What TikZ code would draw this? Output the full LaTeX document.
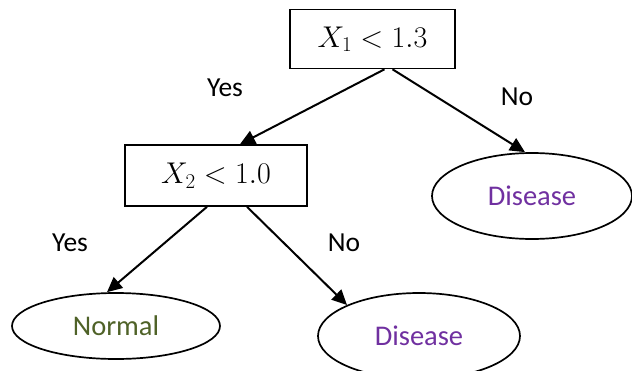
\RequirePackage{fix-cm}
\documentclass[tikz,border=0pt]{standalone}
\usepackage{fontspec}
\setmainfont{Carlito}
\usepackage{xcolor}
\usepackage{tikz}
\usetikzlibrary{arrows.meta, shapes.geometric}
\definecolor{leafpurple}{HTML}{7030A0}
\definecolor{leafgreen}{HTML}{4F6228}

\begin{document}
\begin{tikzpicture}[
    x=1pt, y=-1pt,
    test/.style={
        rectangle, draw=black, line width=1.6pt,
        minimum width=#1, minimum height=59pt,
        inner sep=0pt, font=\fontsize{30}{36}\selectfont
    },
    leaf/.style={
        ellipse, draw=black, line width=1.7pt,
        inner sep=0pt, font=\fontsize{28.5}{34}\selectfont
    },
    answer/.style={font=\fontsize{27.5}{33}\selectfont, inner sep=0pt},
    arrow/.style={-{Triangle[length=15pt, width=14pt]}, line width=2pt}
]
\useasboundingbox (0,0) rectangle (632,370);

\node[test=165pt] (root) at (372.5,39) {$X_1 < 1.3$};
\node[test=182pt, minimum height=61pt] (x2) at (216,175.5) {$X_2 < 1.0$};
\node[leaf, minimum width=200pt, minimum height=86pt, text=leafpurple] (dis1) at (532,196) {Disease};
\node[leaf, minimum width=208pt, minimum height=66pt, text=leafgreen] (normal) at (116,326) {Normal};
\node[leaf, minimum width=202pt, minimum height=86pt, text=leafpurple] (dis2) at (419,336) {Disease};

\node[answer] (yes1) at (225,88) {Yes};
\node[answer] (no1) at (517,97) {No};
\node[answer] (yes2) at (70,243) {Yes};
\node[answer] (no2) at (344,243) {No};

\draw[arrow] ([xshift=12pt]root.south) -- ([xshift=24pt]x2.north);
\draw[arrow] ([xshift=20pt]root.south) -- ([xshift=-7pt]dis1.north);
\draw[arrow] ([xshift=-9pt]x2.south) -- ([xshift=-9pt]normal.north);
\draw[arrow] ([xshift=31pt]x2.south) -- (dis2.north west);
\end{tikzpicture}
\end{document}
